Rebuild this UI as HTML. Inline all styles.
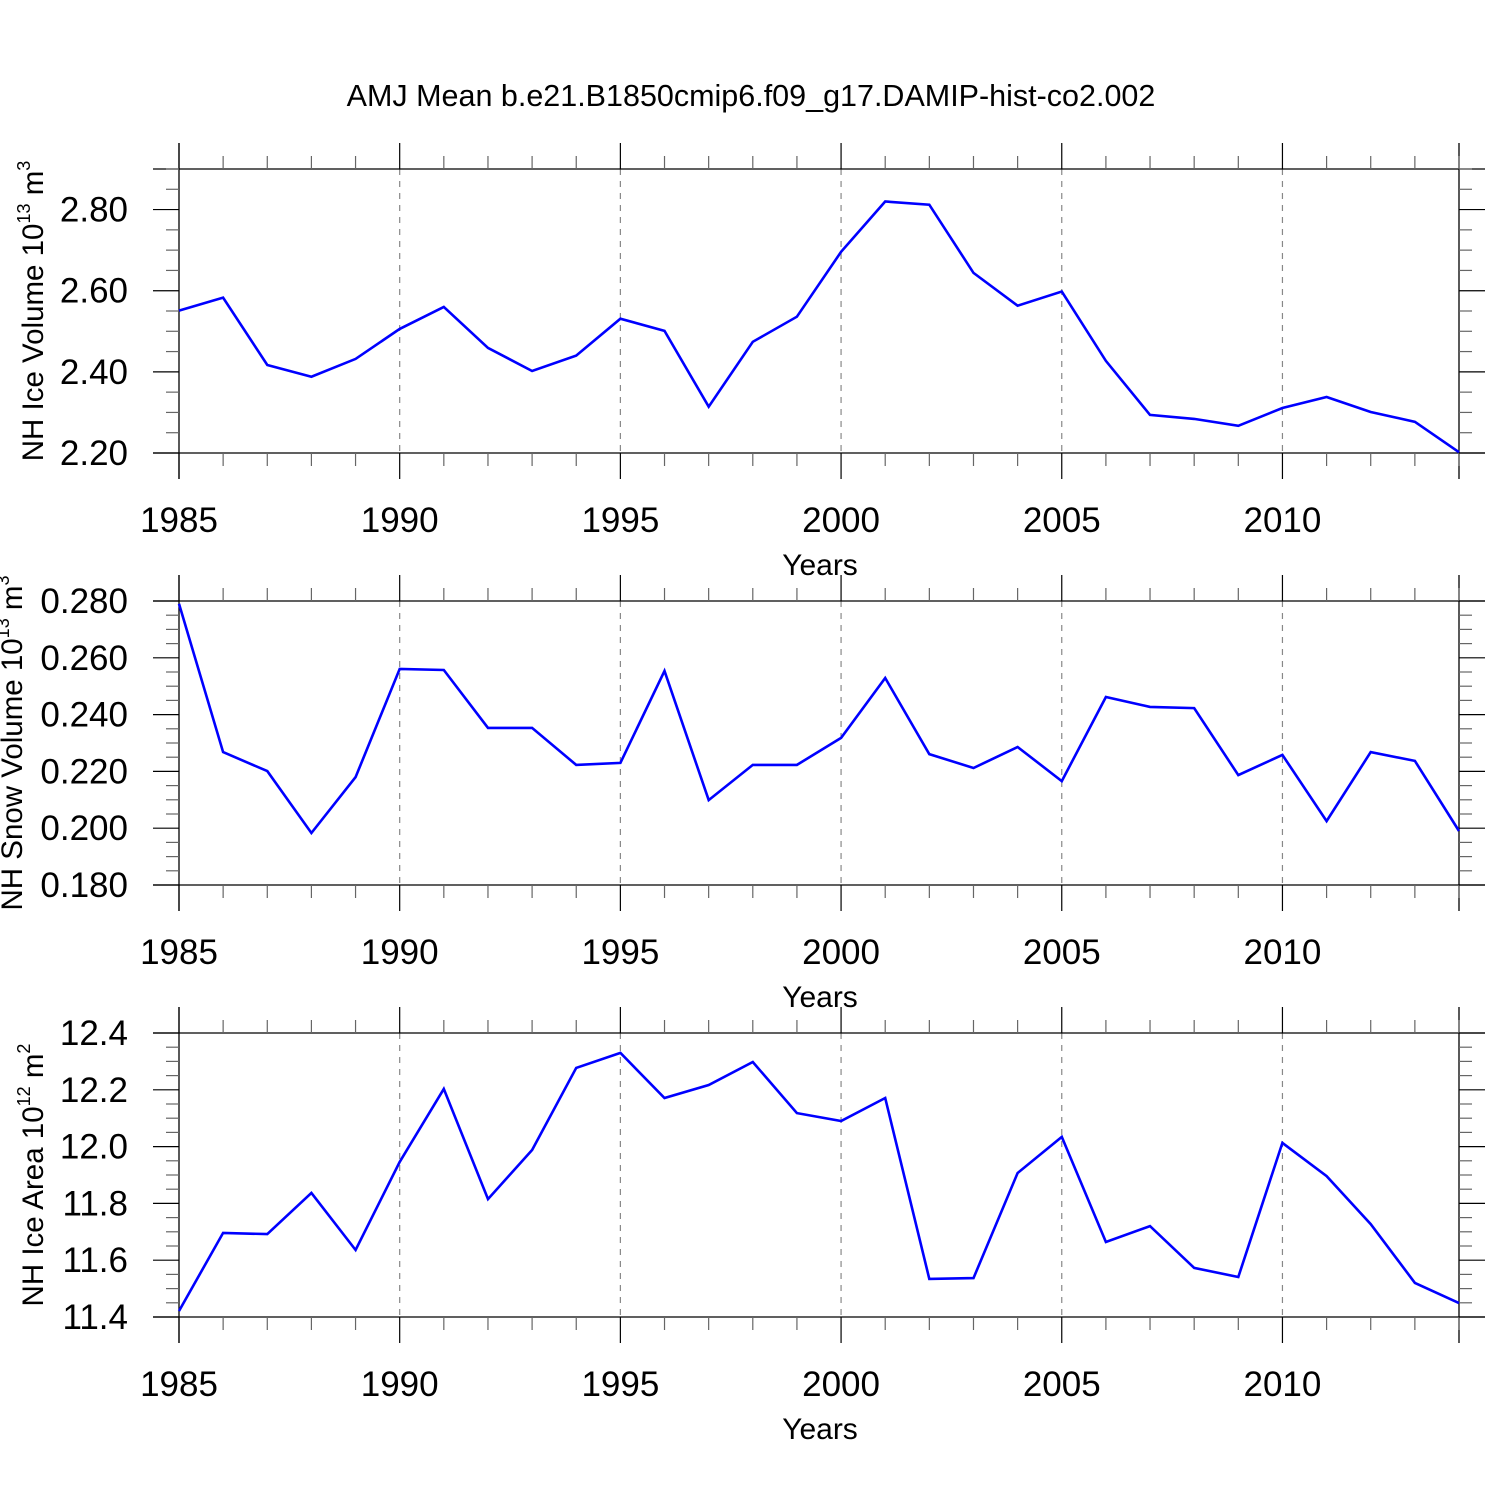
<!DOCTYPE html>
<html><head><meta charset="utf-8"><style>
html,body{margin:0;padding:0;background:#fff}
svg{display:block}
text{font-family:"Liberation Sans",sans-serif;fill:#000}
</style></head><body>
<svg id="chart" width="1500" height="1500" viewBox="0 0 1500 1500" xmlns="http://www.w3.org/2000/svg">
<rect width="1500" height="1500" fill="#fff"/>
<text x="751" y="106" font-size="30.5" text-anchor="middle">AMJ Mean b.e21.B1850cmip6.f09_g17.DAMIP-hist-co2.002</text>
</svg>
<script>
const years = [1985,1986,1987,1988,1989,1990,1991,1992,1993,1994,1995,1996,1997,1998,1999,2000,2001,2002,2003,2004,2005,2006,2007,2008,2009,2010,2011,2012,2013,2014];
const iceVolume = [2.551,2.583,2.417,2.388,2.432,2.506,2.560,2.459,2.402,2.440,2.531,2.501,2.314,2.474,2.536,2.696,2.820,2.812,2.644,2.563,2.598,2.427,2.294,2.284,2.267,2.311,2.338,2.301,2.277,2.202];
const snowVolume = [0.279,0.2268,0.2201,0.1983,0.2180,0.2561,0.2557,0.2353,0.2353,0.2223,0.2230,0.2554,0.2099,0.2223,0.2223,0.2318,0.2529,0.2261,0.2212,0.2286,0.2166,0.2462,0.2427,0.2423,0.2187,0.2258,0.2025,0.2268,0.2237,0.1990];
const iceArea = [11.421,11.696,11.692,11.837,11.636,11.946,12.203,11.815,11.988,12.277,12.330,12.171,12.217,12.298,12.118,12.090,12.171,11.534,11.537,11.907,12.034,11.664,11.720,11.573,11.541,12.013,11.896,11.727,11.520,11.449];
const xTickLabels = ["1985","1990","1995","2000","2005","2010"];
const iceVolTicks = ["2.20","2.40","2.60","2.80"];
const snowTicks = ["0.180","0.200","0.220","0.240","0.260","0.280"];
const areaTicks = ["11.4","11.6","11.8","12.0","12.2","12.4"];

const NS="http://www.w3.org/2000/svg";
const svg=document.getElementById('chart');
function mk(tag,attrs,parent){const e=document.createElementNS(NS,tag);for(const k in attrs)e.setAttribute(k,attrs[k]);(parent||svg).appendChild(e);return e;}
const X0=179,X1=1459;
function xs(yr){return X0+(yr-1985)*(X1-X0)/29;}

const panels=[
 {key:'ice-volume',top:169,bot:453,ymin:2.2,ymax:2.9,major:0.2,minor:0.05,ticks:iceVolTicks,data:iceVolume,title:['NH Ice Volume 10','13',' m','3'],tx:43,ty:311},
 {key:'snow-volume',top:601,bot:885,ymin:0.18,ymax:0.28,major:0.02,minor:0.005,ticks:snowTicks,data:snowVolume,title:['NH Snow Volume 10','13',' m','3'],tx:22,ty:743},
 {key:'ice-area',top:1033,bot:1317,ymin:11.4,ymax:12.4,major:0.2,minor:0.05,ticks:areaTicks,data:iceArea,title:['NH Ice Area 10','12',' m','2'],tx:43,ty:1175}
];

panels.forEach(p=>{
 const g=mk('g',{});
 
 
 const ys=v=>p.bot-(v-p.ymin)*(p.bot-p.top)/(p.ymax-p.ymin);
 for(let yr=1990;yr<=2010;yr+=5){
  const l=mk('line',{x1:xs(yr),x2:xs(yr),y1:p.top,y2:p.bot,stroke:'#888','stroke-width':1.2,'stroke-dasharray':'6,6'},g);
  
  
 }
 const fr=mk('g',{stroke:'#000','stroke-width':1.3},g);
 
 
 mk('line',{x1:153,x2:1485,y1:p.top,y2:p.top},fr);
 mk('line',{x1:153,x2:1485,y1:p.bot,y2:p.bot},fr);
 mk('line',{x1:X0,x2:X0,y1:p.top-26,y2:p.bot+26},fr);
 mk('line',{x1:X1,x2:X1,y1:p.top-26,y2:p.bot+26},fr);
 for(let yr=1985;yr<=2014;yr++){
  const maj=(yr%5===0);const L=maj?26:13;const x=xs(yr);
  mk('line',{x1:x,x2:x,y1:p.top,y2:p.top-L,stroke:maj?'#000':'#666','stroke-width':1.2},g);
  mk('line',{x1:x,x2:x,y1:p.bot,y2:p.bot+L,stroke:maj?'#000':'#666','stroke-width':1.2},g);
 }
 xTickLabels.forEach(s=>{
  const t=mk('text',{x:xs(+s),y:p.bot+79,'font-size':35,'text-anchor':'middle'},g);t.textContent=s;
  
  
 });
 const xt=mk('text',{x:820,y:p.bot+122,'font-size':30,'text-anchor':'middle'},g);xt.textContent='Years';
 
 
 const n=Math.round((p.ymax-p.ymin)/p.minor);
 for(let i=0;i<=n;i++){
  const v=p.ymin+i*p.minor;const y=ys(v);
  const maj=Math.abs(Math.round((v-p.ymin)/p.major)*p.major-(v-p.ymin))<1e-9;
  const L=maj?26:13;
  mk('line',{x1:X0,x2:X0-L,y1:y,y2:y,stroke:maj?'#000':'#666','stroke-width':1.2},g);
  mk('line',{x1:X1,x2:X1+L,y1:y,y2:y,stroke:maj?'#000':'#666','stroke-width':1.2},g);
 }
 p.ticks.forEach(s=>{
  const t=mk('text',{x:128,y:ys(+s)+12,'font-size':35,'text-anchor':'end'},g);t.textContent=s;
  
  
 });
 const tt=mk('text',{x:0,y:0,'font-size':29.5,'text-anchor':'middle',transform:`translate(${p.tx},${p.ty}) rotate(-90)`},g);
 
 
 p.title.forEach((s,i)=>{const ts=mk('tspan',i%2?{'font-size':18,dy:-13}:{dy:i?13:0},tt);ts.textContent=s;});
 const pts=p.data.map((v,i)=>xs(years[i]).toFixed(1)+','+ys(v).toFixed(1)).join(' ');
 const pl=mk('polyline',{points:pts,fill:'none',stroke:'#0000ff','stroke-width':2.6,'stroke-linejoin':'miter'},g);
 
 
});
</script>
</body></html>
